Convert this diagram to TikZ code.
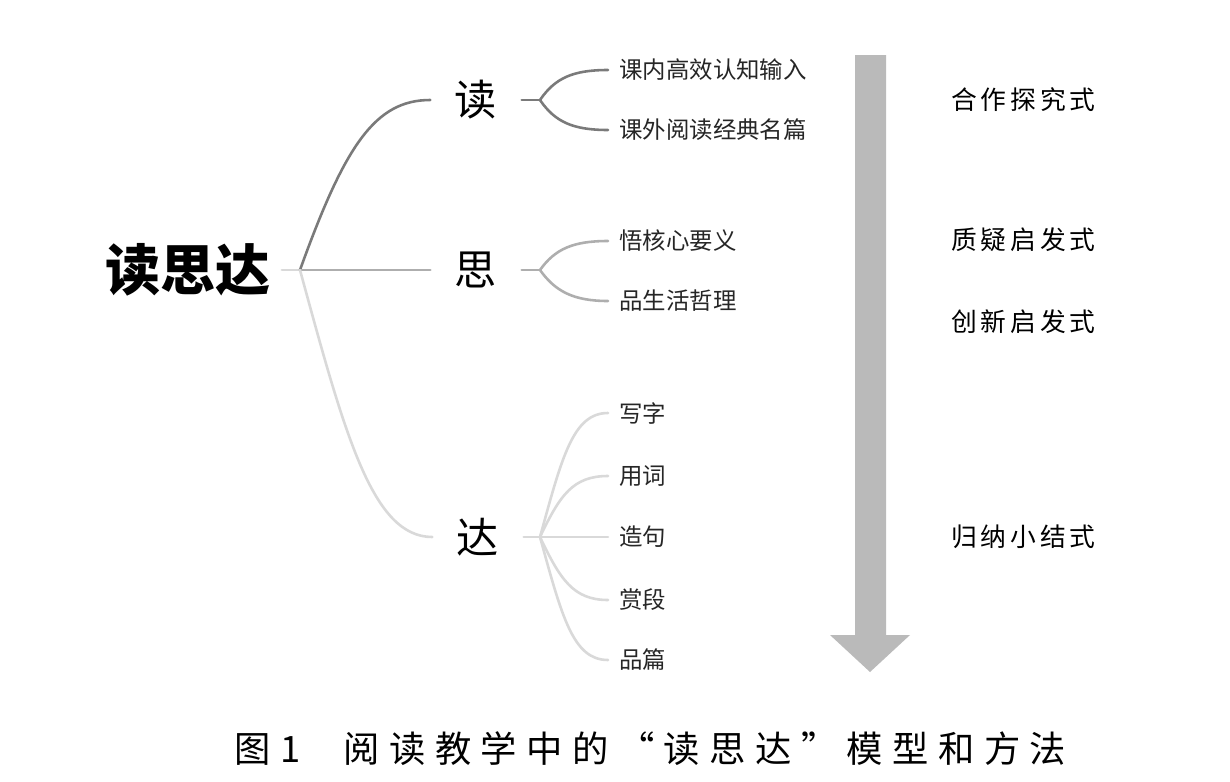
\documentclass[tikz,border=0pt]{standalone}
\usepackage{fontspec}
\setmainfont{Noto Sans CJK SC}
\newfontfamily\wayfont[LetterSpace=15]{Noto Sans CJK SC}
\newfontfamily\captfont[LetterSpace=26]{Noto Sans CJK SC}
\definecolor{dudark}{HTML}{7A7A7A}
\definecolor{simid}{HTML}{AEAEAE}
\definecolor{dalight}{HTML}{D9D9D9}
\definecolor{flowgray}{HTML}{BABABA}

\begin{document}
	\begin{tikzpicture}[x=0.03cm,y=-0.03cm,line width=2.2pt,line cap=round,
		cat/.style={inner sep=0.7cm,font=\fontsize{36}{40}\selectfont},
		leaf/.style={anchor=west,inner sep=0.3cm,text=black!85,font=\fontsize{20}{24}\selectfont},
		way/.style={anchor=west,inner sep=0pt,font=\wayfont\fontsize{22}{26}\selectfont}]
		\useasboundingbox (0,0) rectangle (1230,781);
		\fill[color=white] (0,0) rectangle (1230,781);
		\node[inner sep=0.3cm,font=\bfseries\fontsize{47}{50}\selectfont] (root) at (188,270) {读思达};
		\coordinate (rootj) at (300,270);
		\node[cat] (du) at (476,100) {读};
		\node[cat] (si) at (476,270) {思};
		\node[cat] (da) at (478,537) {达};
		\coordinate (duj) at (540,100);
		\coordinate (sij) at (540,270);
		\coordinate (daj) at (540,537);
		\node[leaf] (du1) at (608,70) {课内高效认知输入};
		\node[leaf] (du2) at (608,130) {课外阅读经典名篇};
		\node[leaf] (si1) at (608,241) {悟核心要义};
		\node[leaf] (si2) at (608,301) {品生活哲理};
		\node[leaf] (da1) at (608,413) {写字};
		\node[leaf] (da2) at (608,476) {用词};
		\node[leaf] (da3) at (608,537) {造句};
		\node[leaf] (da4) at (608,600) {赏段};
		\node[leaf] (da5) at (608,660) {品篇};
		\draw[color=dalight] (root.east) -- (rootj);
		\draw[color=dudark] (rootj) .. controls +(45,-125) and +(-55,0) .. (du.west);
		\draw[color=simid] (rootj) -- (si.west);
		\draw[color=dalight] (rootj) .. controls +(45,165) and +(-60,0) .. (da.west);
		\draw[color=dudark] (du.east) -- (duj);
		\draw[color=dudark] (duj) .. controls +(15,-22) and +(-35,0) .. (du1.west);
		\draw[color=dudark] (duj) .. controls +(15,22) and +(-35,0) .. (du2.west);
		\draw[color=simid] (si.east) -- (sij);
		\draw[color=simid] (sij) .. controls +(15,-21) and +(-35,0) .. (si1.west);
		\draw[color=simid] (sij) .. controls +(15,21) and +(-35,0) .. (si2.west);
		\draw[color=dalight] (da.east) -- (daj);
		\draw[color=dalight] (daj) .. controls +(22,-80) and +(-35,0) .. (da1.west);
		\draw[color=dalight] (daj) .. controls +(20,-42) and +(-35,0) .. (da2.west);
		\draw[color=dalight] (daj) -- (da3.west);
		\draw[color=dalight] (daj) .. controls +(20,42) and +(-35,0) .. (da4.west);
		\draw[color=dalight] (daj) .. controls +(22,80) and +(-35,0) .. (da5.west);
		\fill[color=flowgray] (855,55) -- (886,55) -- (886,635) -- (910,635) -- (870,672) -- (830,635) -- (855,635) -- cycle;
		\node[way] (way1) at (950,100) {合作探究式};
		\node[way] (way2) at (950,240) {质疑启发式};
		\node[way] (way3) at (950,322) {创新启发式};
		\node[way] (way4) at (950,537) {归纳小结式};
		\node[anchor=west,inner sep=0pt,font=\captfont\fontsize{31}{34}\selectfont] (capt) at (233,749) {图1\hspace{1.3cm}阅读教学中的“读思达”模型和方法};
	\end{tikzpicture}
\end{document}
